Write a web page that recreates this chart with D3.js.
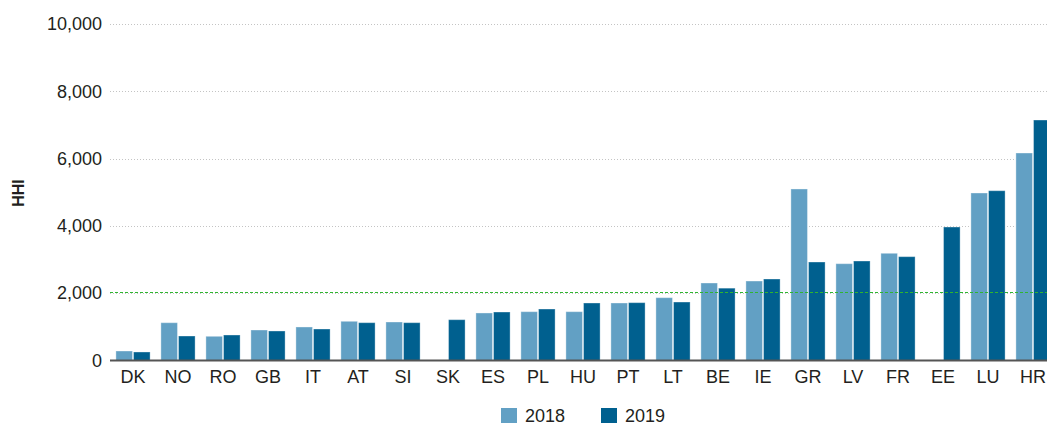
<!DOCTYPE html>
<html>
<head>
<meta charset="utf-8">
<script src="https://cdn.jsdelivr.net/npm/d3@7"></script>
<style>
  body { margin: 0; background: #fff; }
  svg text { font-family: "Liberation Sans", Arial, sans-serif; fill: #231f20; }
</style>
</head>
<body>
<div id="app"></div>
<script>
// data
const countries = ['DK','NO','RO','GB','IT','AT','SI','SK','ES','PL','HU','PT','LT','BE','IE','GR','LV','FR','EE','LU','HR']
const hhi2018 = [282,1123,719,906,996,1165,1144,null,1412,1451,1451,1709,1867,2303,2362,5097,2877,3186,null,4978,6166]
const hhi2019 = [253,728,758,877,936,1124,1124,1213,1441,1530,1709,1719,1738,2150,2422,2927,2957,3086,3967,5046,7147]
const years = ['2018', '2019']
const yTicks = [0, 2000, 4000, 6000, 8000, 10000]
const threshold = 2050

const W = 1047, H = 425
const colors = { '2018': '#62a0c4', '2019': '#00608f' }

const svg = d3.select('#app').append('svg')
    .attr('width', W)
    .attr('height', H)

// step of 45px per country, last group runs off the right edge like the original
const x = d3.scaleBand()
    .domain(countries)
    .range([110.5, 110.5 + 45 * countries.length])
    .paddingInner(0.24)
    .paddingOuter(0.12)

const xYear = d3.scaleBand()
    .domain(years)
    .range([0, x.bandwidth()])
    .paddingInner(0.06)

const y = d3.scaleLinear()
    .domain([0, 10000])
    .range([360.5, 24])

// grid lines (dotted grey)
svg.append('g').selectAll('line')
    .data(yTicks.filter(d => d > 0))
    .join('line')
    .attr('x1', 110).attr('x2', W)
    .attr('y1', d => Math.round(y(d)) + 0.5)
    .attr('y2', d => Math.round(y(d)) + 0.5)
    .attr('stroke', '#c4c4c4')
    .attr('stroke-width', 1)
    .attr('stroke-dasharray', '1,2')

// y axis labels
const yAxis = svg.append('g')
    .attr('transform', 'translate(110,0)')
    .call(d3.axisLeft(y).tickValues(yTicks).tickSize(0).tickPadding(8).tickFormat(d3.format(',')))
yAxis.select('.domain').remove()
yAxis.selectAll('text')
    .style('font-size', '18px')
    .attr('fill', '#231f20')

// axis title
svg.append('text')
    .attr('transform', 'translate(24,193) rotate(-90)')
    .attr('text-anchor', 'middle')
    .style('font-size', '16px')
    .style('font-weight', 'bold')
    .text('HHI')

// bars
const rows = countries.map((c, i) => ({ c, v: { '2018': hhi2018[i], '2019': hhi2019[i] } }))
const groups = svg.append('g').selectAll('g')
    .data(rows)
    .join('g')
    .attr('transform', d => `translate(${x(d.c)},0)`)

groups.selectAll('rect')
    .data(d => years.filter(k => d.v[k] != null).map(k => ({ k, v: d.v[k] })))
    .join('rect')
    .attr('x', d => xYear(d.k))
    .attr('width', xYear.bandwidth())
    .attr('y', d => y(d.v))
    .attr('height', d => y(0) - y(d.v))
    .attr('fill', d => colors[d.k])
    .attr('stroke', 'rgba(255,255,255,0.35)')
    .attr('stroke-width', 1)

// green threshold line, snapped to the pixel grid so it stays crisp
const ty = Math.round(y(threshold)) + 0.5
svg.append('line')
    .attr('x1', 110).attr('x2', W)
    .attr('y1', ty).attr('y2', ty)
    .style('stroke', '#2fb52f')
    .attr('stroke-width', 1)
    .attr('stroke-dasharray', '3,2')

// x axis
const xAxis = svg.append('g')
    .attr('transform', `translate(0,${y(0)})`)
    .call(d3.axisBottom(x).tickSize(0).tickPadding(10))
xAxis.select('.domain')
    .attr('d', `M110,0H${W}`)
    .attr('stroke', '#555')
    .attr('stroke-width', 2)
xAxis.selectAll('text')
    .style('font-size', '18px')
    .attr('fill', '#231f20')

// legend
const legend = svg.append('g')
    .attr('transform', 'translate(501,408)')
const item = legend.selectAll('g')
    .data(years)
    .join('g')
    .attr('transform', (d, i) => `translate(${i * 100},0)`)
item.append('rect')
    .attr('width', 16).attr('height', 15)
    .attr('fill', d => colors[d])
item.append('text')
    .attr('x', 24).attr('y', 14)
    .style('font-size', '18px')
    .text(d => d)
</script>
</body>
</html>
